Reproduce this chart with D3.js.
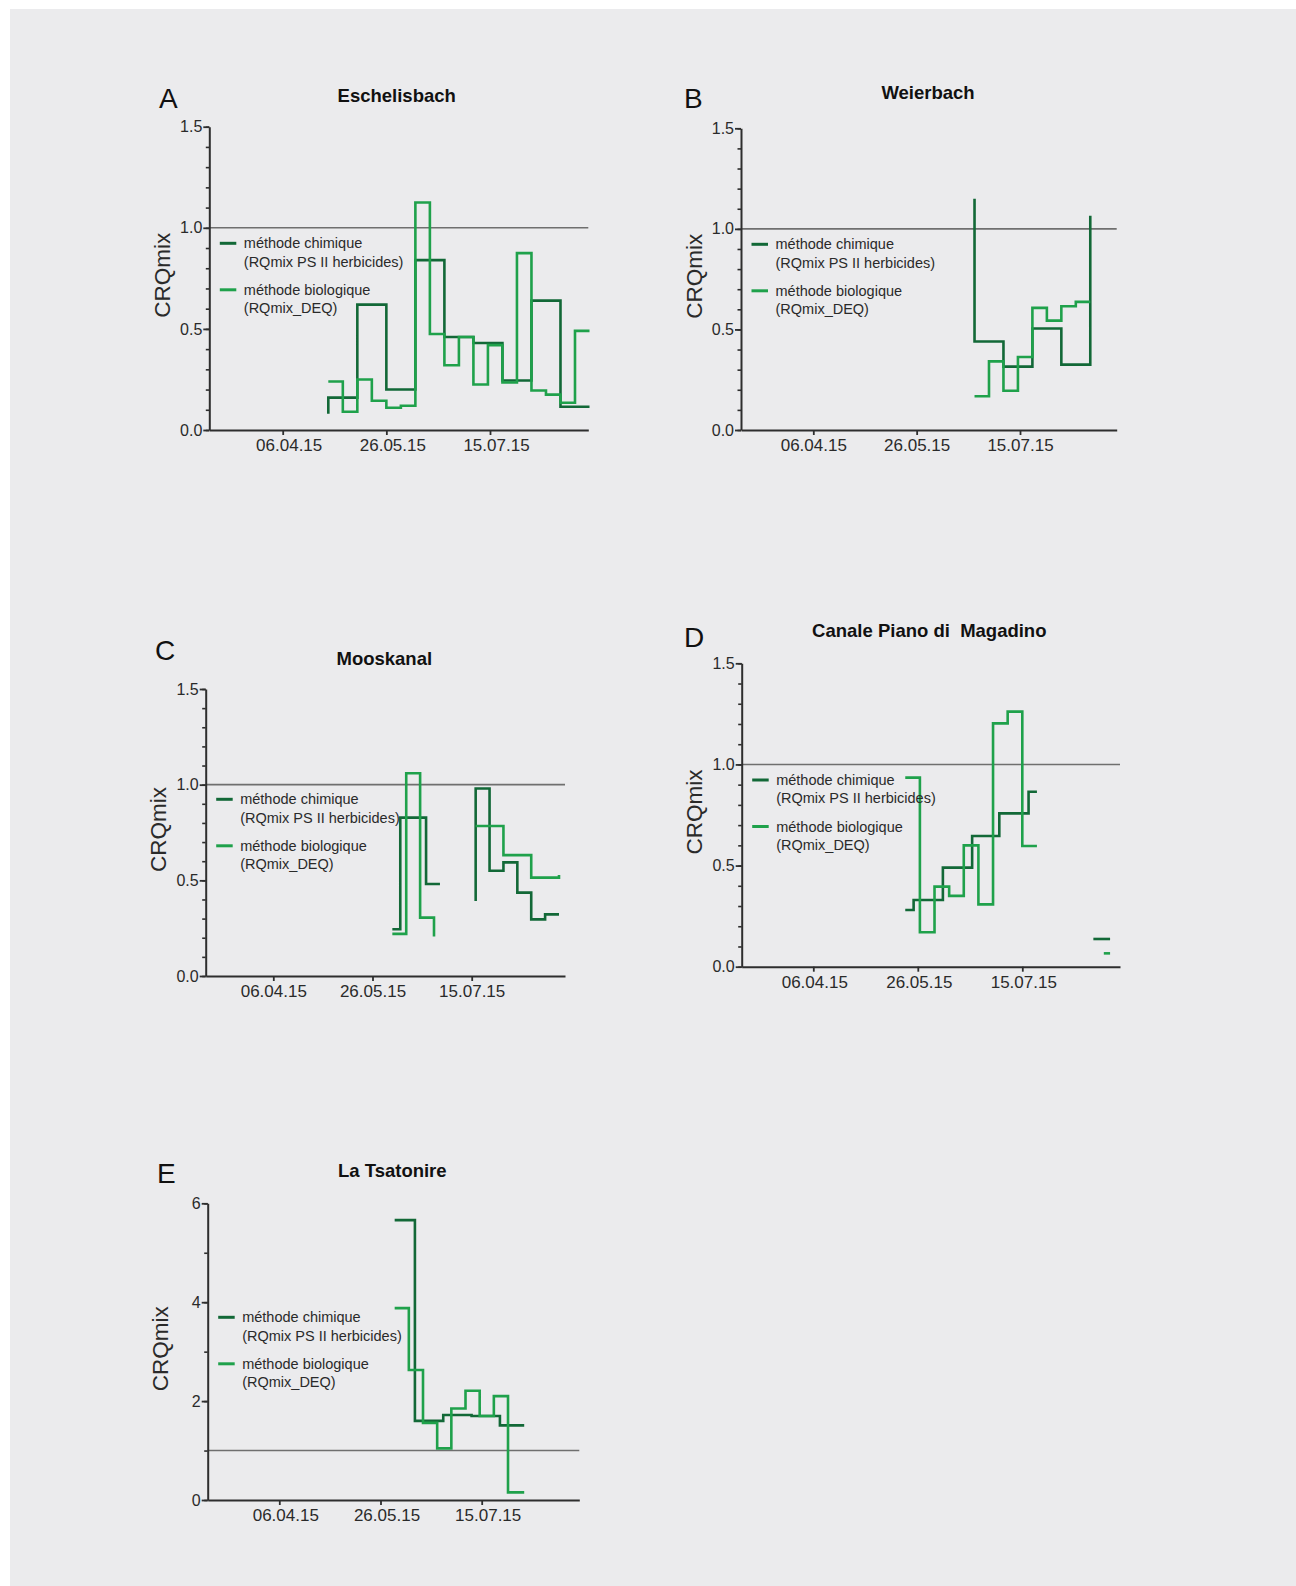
<!DOCTYPE html>
<html><head><meta charset="utf-8">
<script src="https://cdn.jsdelivr.net/npm/d3@7"></script>
<style>
body{margin:0;background:#fff}
svg{display:block}
text{font-family:"Liberation Sans",Arial,Helvetica,sans-serif}
</style>
</head><body>
<svg id="chart" width="1296" height="1586"></svg>
<script>
// ---------- DATA ----------
const xTickDates = ["2015-04-06", "2015-05-26", "2015-07-15"];
const xTickLabels = ["06.04.15", "26.05.15", "15.07.15"];
const legendChem = ["méthode chimique", "(RQmix PS II herbicides)"];
const legendBio = ["méthode biologique", "(RQmix_DEQ)"];
const yLabel = "CRQmix";
const thresholdValue = 1;

// step series: [start date, value] ; last entry closes the step
const chemA = [[
  ["2015-04-28", 0.08], ["2015-04-28", 0.16], ["2015-05-12", 0.62], ["2015-05-26", 0.20],
  ["2015-06-09", 0.84], ["2015-06-23", 0.46], ["2015-07-07", 0.43], ["2015-07-21", 0.245],
  ["2015-08-04", 0.64], ["2015-08-18", 0.115], ["2015-09-01", 0.115]
]];
const bioA = [[
  ["2015-04-28", 0.24], ["2015-05-05", 0.09], ["2015-05-12", 0.25], ["2015-05-19", 0.145],
  ["2015-05-26", 0.11], ["2015-06-02", 0.12], ["2015-06-09", 1.125], ["2015-06-16", 0.475],
  ["2015-06-23", 0.32], ["2015-06-30", 0.46], ["2015-07-07", 0.225], ["2015-07-14", 0.42],
  ["2015-07-21", 0.235], ["2015-07-28", 0.875], ["2015-08-04", 0.195], ["2015-08-11", 0.175],
  ["2015-08-18", 0.135], ["2015-08-25", 0.49], ["2015-09-01", 0.49]
]];
const chemB = [[
  ["2015-06-23", 1.15], ["2015-06-23", 0.44], ["2015-07-07", 0.315], ["2015-07-21", 0.505],
  ["2015-08-04", 0.325], ["2015-08-18", 0.325], ["2015-08-18", 1.065]
]];
const bioB = [[
  ["2015-06-23", 0.168], ["2015-06-30", 0.341], ["2015-07-07", 0.195], ["2015-07-14", 0.363],
  ["2015-07-21", 0.607], ["2015-07-28", 0.544], ["2015-08-04", 0.615], ["2015-08-11", 0.637],
  ["2015-08-18", 0.637]
]];
const chemC = [
  [["2015-06-05", 0.244], ["2015-06-09", 0.828], ["2015-06-22", 0.481], ["2015-06-29", 0.481]],
  [["2015-07-17", 0.392], ["2015-07-17", 0.98], ["2015-07-24", 0.55], ["2015-07-31", 0.594],
   ["2015-08-07", 0.436], ["2015-08-14", 0.296], ["2015-08-21", 0.322], ["2015-08-28", 0.322]]
];
const bioC = [
  [["2015-06-05", 0.22], ["2015-06-12", 1.06], ["2015-06-19", 0.305], ["2015-06-26", 0.305], ["2015-06-26", 0.206]],
  [["2015-07-17", 0.784], ["2015-07-31", 0.632], ["2015-08-14", 0.514], ["2015-08-28", 0.514], ["2015-08-28", 0.528]]
];
const chemD = [
  [["2015-05-20", 0.28], ["2015-05-24", 0.33], ["2015-06-07", 0.49], ["2015-06-21", 0.646],
   ["2015-07-04", 0.758], ["2015-07-18", 0.865], ["2015-07-22", 0.865]],
  [["2015-08-18", 0.137], ["2015-08-26", 0.137]]
];
const bioD = [
  [["2015-05-20", 0.935], ["2015-05-27", 0.17], ["2015-06-03", 0.396], ["2015-06-10", 0.35],
   ["2015-06-17", 0.60], ["2015-06-24", 0.308], ["2015-07-01", 1.203], ["2015-07-08", 1.261],
   ["2015-07-15", 0.597], ["2015-07-22", 0.597]],
  [["2015-08-23", 0.066], ["2015-08-26", 0.066]]
];
const chemE = [[
  ["2015-06-02", 5.66], ["2015-06-12", 1.60], ["2015-06-26", 1.72], ["2015-07-10", 1.70],
  ["2015-07-24", 1.51], ["2015-08-05", 1.51]
]];
const bioE = [[
  ["2015-06-02", 3.88], ["2015-06-09", 2.63], ["2015-06-16", 1.56], ["2015-06-23", 1.045],
  ["2015-06-30", 1.85], ["2015-07-07", 2.21], ["2015-07-14", 1.70], ["2015-07-21", 2.10],
  ["2015-07-28", 0.155], ["2015-08-05", 0.155]
]];

const panelLetters = ["A", "B", "C", "D", "E"];
const panelTitles = ["Eschelisbach", "Weierbach", "Mooskanal", "Canale Piano di  Magadino", "La Tsatonire"];
const yTicksSmall = [0, 0.5, 1.0, 1.5];
const yTicksLarge = [0, 2, 4, 6];

// ---------- LAYOUT ----------
const layout = [
  {x0:209.3, x1:588.3, t1:282.7, t3:490.0, y0:430, yTop:126.7, yMax:1.5, minor:0.1, ticks:yTicksSmall, fmt:".1f", lblDx:6,
   titleX:396.7, titleY:95, letterX:159, letterY:108, legY:243.3, chem:chemA, bio:bioA},
  {x0:741.0, x1:1116.7, t1:813.3, t3:1020.0, y0:430, yTop:128.3, yMax:1.5, minor:0.1, ticks:yTicksSmall, fmt:".1f", lblDx:0,
   titleX:928, titleY:92.7, letterX:684, letterY:108, legY:244.3, chem:chemB, bio:bioB},
  {x0:205.7, x1:565.0, t1:273.3, t3:471.7, y0:976, yTop:689, yMax:1.5, minor:0.1, ticks:yTicksSmall, fmt:".1f", lblDx:0,
   titleX:384.3, titleY:658.3, letterX:155, letterY:659.5, legY:799.3, chem:chemC, bio:bioC},
  {x0:741.7, x1:1120.0, t1:813.3, t3:1022.3, y0:966.7, yTop:663.3, yMax:1.5, minor:0.1, ticks:yTicksSmall, fmt:".1f", lblDx:1,
   titleX:929.3, titleY:630.7, letterX:684, letterY:646.7, legY:780, chem:chemD, bio:bioD},
  {x0:207.7, x1:579.3, t1:279.3, t3:481.7, y0:1500, yTop:1203.3, yMax:6, minor:1, ticks:yTicksLarge, fmt:"d", lblDx:6,
   titleX:392.3, titleY:1170.7, letterX:157, letterY:1183.3, legY:1317.3, chem:chemE, bio:bioE}
];

const chemColor = "#126837";
const bioColor = "#1fa14b";
const axisColor = "#2e2e2e";
const textColor = "#2a2a2a";

// ---------- DRAW ----------
const parse = d3.utcParse("%Y-%m-%d");
const svg = d3.select("#chart");
svg.append("rect").attr("x", 10).attr("y", 9).attr("width", 1286).attr("height", 1577).attr("fill", "#ebebed");

layout.forEach((p, i) => {
  const g = svg.append("g");
  const xRef = d3.scaleUtc().domain([parse(xTickDates[0]), parse(xTickDates[2])]).range([p.t1, p.t3]);
  const x = d3.scaleUtc().domain([xRef.invert(p.x0), xRef.invert(p.x1)]).range([p.x0, p.x1]);
  const y = d3.scaleLinear().domain([0, p.yMax]).range([p.y0, p.yTop]);

  // threshold line
  g.append("line").attr("x1", p.x0).attr("x2", p.x1)
    .attr("y1", y(thresholdValue)).attr("y2", y(thresholdValue))
    .attr("stroke", "#6f6f6f").attr("stroke-width", 1.6);

  // series
  const line = d3.line().x(d => x(parse(d[0]))).y(d => y(d[1])).curve(d3.curveStepAfter);
  [[p.chem, chemColor], [p.bio, bioColor]].forEach(([segs, col]) => {
    segs.forEach(seg => {
      g.append("path").attr("d", line(seg)).attr("fill", "none")
        .attr("stroke", col).attr("stroke-width", 2.6)
        .attr("stroke-linejoin", "miter").attr("stroke-linecap", "butt");
    });
  });

  // minor y ticks
  const minorVals = d3.range(0, p.yMax + 1e-9, p.minor);
  const gm = g.append("g").attr("transform", `translate(${p.x0},0)`)
    .call(d3.axisLeft(y).tickValues(minorVals).tickSize(3.5).tickFormat(""));
  gm.select(".domain").remove();
  gm.selectAll("line").attr("stroke", axisColor).attr("stroke-width", 1.6);

  // major y axis
  const fmt = d3.format(p.fmt);
  const gy = g.append("g").attr("transform", `translate(${p.x0},0)`)
    .call(d3.axisLeft(y).tickValues(p.ticks).tickSize(6).tickSizeOuter(0).tickPadding(1).tickFormat(fmt));
  gy.select(".domain").attr("stroke", axisColor).attr("stroke-width", 2);
  gy.selectAll(".tick line").attr("stroke", axisColor).attr("stroke-width", 1.8);
  gy.selectAll("text").attr("font-size", 16).attr("fill", textColor)
    .attr("font-family", '"Liberation Sans",Arial,sans-serif');

  // x axis
  const gx = g.append("g").attr("transform", `translate(0,${p.y0})`)
    .call(d3.axisBottom(x).tickValues(xTickDates.map(parse)).tickSize(5).tickSizeOuter(0).tickPadding(4)
      .tickFormat((d, k) => xTickLabels[k]));
  gx.select(".domain").attr("stroke", axisColor).attr("stroke-width", 2);
  gx.selectAll(".tick line").attr("stroke", axisColor).attr("stroke-width", 1.8);
  gx.selectAll("text").attr("font-size", 17).attr("fill", textColor).attr("dx", p.lblDx)
    .attr("font-family", '"Liberation Sans",Arial,sans-serif');

  // y label
  const cy = (p.y0 + p.yTop) / 2 - 3;
  g.append("text").attr("transform", `translate(${p.x0 - 47},${cy}) rotate(-90)`)
    .attr("text-anchor", "middle").attr("dominant-baseline", "central")
    .attr("font-size", 22.5).attr("fill", textColor).text(yLabel);

  // title
  g.append("text").attr("x", p.titleX).attr("y", p.titleY)
    .attr("text-anchor", "middle").attr("dominant-baseline", "central")
    .attr("font-size", 18.5).attr("font-weight", "bold").attr("fill", "#111")
    .style("white-space", "pre").text(panelTitles[i]);

  // panel letter
  g.append("text").attr("x", p.letterX).attr("y", p.letterY)
    .attr("font-size", 28).attr("fill", "#111").text(panelLetters[i]);

  // legend
  [[legendChem, chemColor, 0], [legendBio, bioColor, 46.5]].forEach(([txt, col, off]) => {
    const ly = p.legY + off;
    g.append("line").attr("x1", p.x0 + 10.5).attr("x2", p.x0 + 27)
      .attr("y1", ly).attr("y2", ly).attr("stroke", col).attr("stroke-width", 3);
    txt.forEach((t, k) => {
      g.append("text").attr("x", p.x0 + 34.5).attr("y", ly + k * 18.3)
        .attr("dominant-baseline", "central").attr("font-size", 14.5)
        .attr("fill", textColor).text(t);
    });
  });
});
</script>
</body></html>
